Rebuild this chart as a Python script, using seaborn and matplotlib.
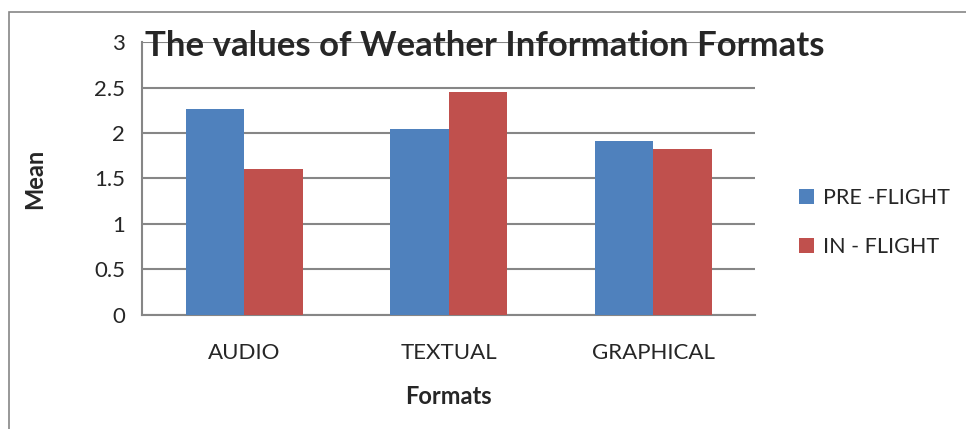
import matplotlib
matplotlib.use("Agg")
import matplotlib.pyplot as plt
import pandas as pd
import seaborn as sns
from matplotlib.patches import Rectangle

# Chart data
formats = ["AUDIO", "TEXTUAL", "GRAPHICAL"]
pre_flight = [2.26, 2.04, 1.91]
in_flight = [1.60, 2.45, 1.82]
series_names = ["PRE -FLIGHT", "IN - FLIGHT"]
y_ticks = [0, 0.5, 1, 1.5, 2, 2.5, 3]
y_tick_labels = ["0", "0.5", "1", "1.5", "2", "2.5", "3"]

df = pd.DataFrame({
    "Formats": formats * 2,
    "Mean": pre_flight + in_flight,
    "Series": [series_names[0]] * 3 + [series_names[1]] * 3,
})

sns.set_style("white")
plt.rcParams["font.family"] = ["Lato", "DejaVu Sans"]

GRID = "#868686"

fig = plt.figure(figsize=(9.66, 4.29), dpi=100)
ax = fig.add_axes([0.147, 0.266, 0.635, 0.636])

sns.barplot(data=df, x="Formats", y="Mean", hue="Series",
            palette=["#4F81BD", "#C0504D"], width=0.573, gap=0,
            saturation=1, edgecolor="none", ax=ax, zorder=3)

ax.set_ylim(0, 3)
ax.set_xlim(-0.5, 2.5)
ax.set_yticks(y_ticks)
ax.set_yticklabels(y_tick_labels)
ax.yaxis.grid(True, color=GRID, linewidth=1.5, zorder=0)
ax.set_axisbelow(True)

# category boundary ticks below the x axis
ax.set_xticks([-0.5, 0.5, 1.5, 2.5], minor=True)
ax.tick_params(axis="x", which="minor", length=7, width=1.2, color=GRID, direction="out")
ax.tick_params(axis="x", which="major", length=0, labelsize=16, pad=20)
ax.tick_params(axis="y", length=7, width=1.2, color=GRID, direction="out",
               labelsize=16, pad=5)

for side in ["top", "right"]:
    ax.spines[side].set_visible(False)
for side in ["left", "bottom"]:
    ax.spines[side].set_color(GRID)
    ax.spines[side].set_linewidth(1.5)

ax.set_xlabel("Formats", fontsize=17, fontweight="bold", labelpad=16)
ax.set_ylabel("Mean", fontsize=17, fontweight="bold", labelpad=35)

fig.text(0.502, 0.893, "The values of Weather Information Formats",
         fontsize=25, fontweight="bold", ha="center", va="center")

handles, labels = ax.get_legend_handles_labels()
ax.legend(handles, labels, loc="center left", bbox_to_anchor=(1.04, 0.34),
          frameon=False, fontsize=15.5, handlelength=0.7, handleheight=0.7,
          handletextpad=0.4, labelspacing=1.35)

# outer chart frame
fig.patches.append(Rectangle((9 / 966, -0.1), 1.2, 1.1 - 12 / 429,
                             transform=fig.transFigure, fill=False,
                             edgecolor=GRID, linewidth=1.2))

fig.savefig("out.png", dpi=100)
